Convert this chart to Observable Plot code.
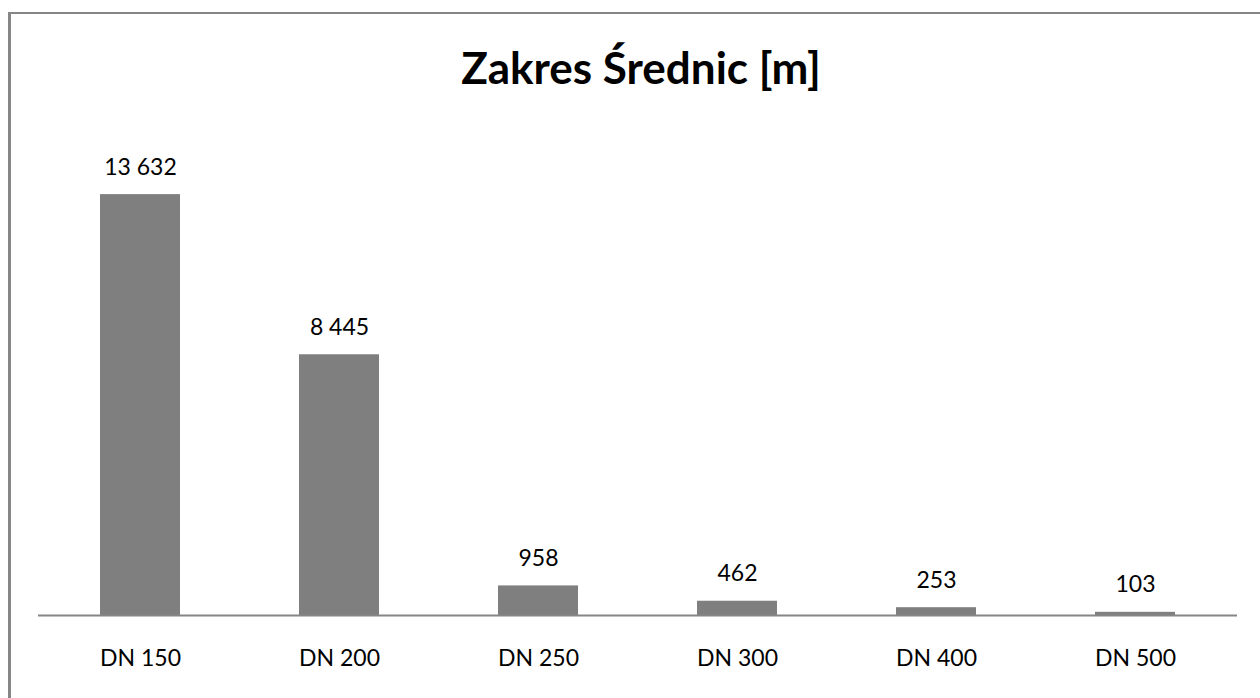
<!DOCTYPE html>
<html>
<head>
<meta charset="utf-8">
<script src="https://cdn.jsdelivr.net/npm/d3@7"></script>
<script src="https://cdn.jsdelivr.net/npm/@observablehq/plot@0.6"></script>
<style>
  html, body { margin: 0; padding: 0; background: #fff; }
  #wrap { position: relative; width: 1260px; height: 698px; overflow: hidden; }
  #frame { position: absolute; left: 8px; top: 12px; right: -10px; bottom: -10px;
           border-top: 2px solid #868686; border-left: 3px solid #868686; pointer-events: none; }
  #title { position: absolute; left: 0; width: 1282px; top: 41px; text-align: center;
           font-family: Lato, "Open Sans", sans-serif; font-weight: bold; font-size: 44px; color: #000; }
  #chart { position: absolute; left: 0; top: 0; }
</style>
</head>
<body>
<div id="wrap">
  <div id="chart"></div>
  <div id="frame"></div>
  <div id="title">Zakres Średnic [m]</div>
</div>
<script>
const categories = ["DN 150", "DN 200", "DN 250", "DN 300", "DN 400", "DN 500"];
const values = [13632, 8445, 958, 462, 253, 103];

const data = categories.map((c, i) => ({cat: c, val: values[i]}));
const fmt = d3.formatLocale({thousands: " ", grouping: [3], decimal: ","}).format(",");

const chart = Plot.plot({
  width: 1260,
  height: 698,
  marginLeft: 38,
  marginRight: 23,
  marginTop: 121,
  marginBottom: 83,
  style: {fontFamily: "Lato, 'Open Sans', sans-serif", fontSize: "23px", color: "#000", background: "transparent"},
  x: {domain: categories, paddingInner: 0.6, paddingOuter: 0.3, label: null},
  y: {domain: [0, 16000], axis: null},
  marks: [
    Plot.barY(data, {x: "cat", y: "val", fill: "#7f7f7f"}),
    Plot.ruleY([0], {stroke: "#868686", strokeWidth: 2}),
    Plot.text(data, {x: "cat", y: "val", text: d => fmt(d.val), dy: -20, lineAnchor: "bottom", fill: "#000", fontSize: 23}),
    Plot.axisX({tickSize: 0, tickPadding: 34, fontSize: 23, fill: "#000"})
  ]
});
document.getElementById("chart").appendChild(chart);
</script>
</body>
</html>
